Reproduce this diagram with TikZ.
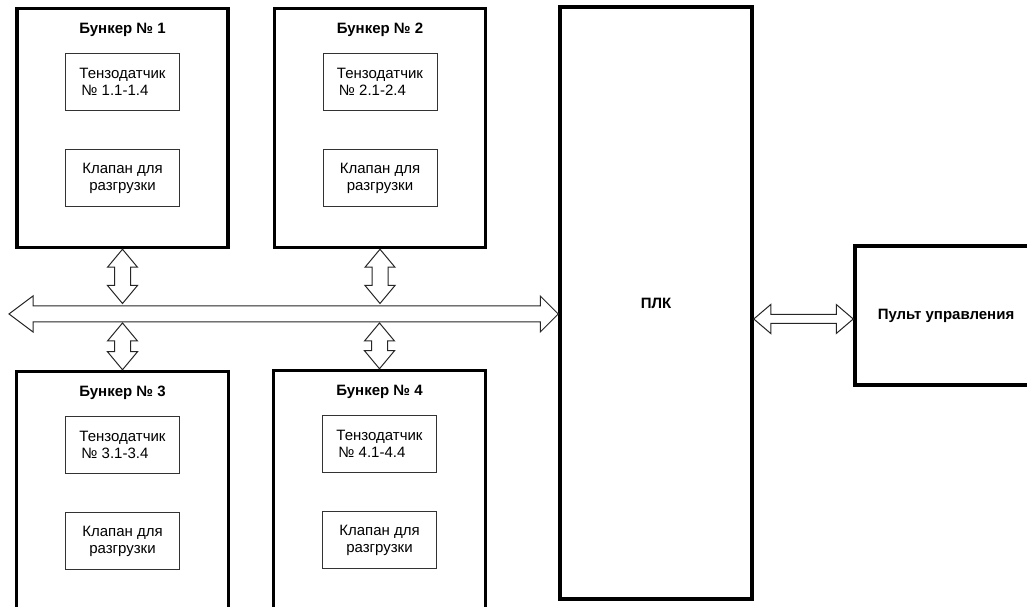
\documentclass[tikz,border=0pt]{standalone}
\usepackage{fontspec}
\setmainfont{Liberation Sans}
\usetikzlibrary{calc}
\tikzset{
  txt/.style={font=\fontsize{15pt}{17pt}\selectfont},
  bunker/.style={draw=black, line width=3.5pt, minimum width=211pt, minimum height=239pt, inner sep=0pt},
  bunkerB/.style={draw=black, line width=3.5pt, minimum width=212pt, minimum height=241pt, inner sep=0pt},
  title/.style={txt, font=\fontsize{15pt}{17pt}\selectfont\bfseries, inner sep=0pt},
  inner/.style={txt, draw=black!80, line width=0.9pt, minimum width=114pt, minimum height=57pt, inner sep=0pt},
  bigbox/.style={draw=black, line width=3.5pt, inner sep=0pt, font=\fontsize{15pt}{17pt}\selectfont\bfseries},
  barrow/.style={draw=black!85, line width=1pt, fill=white, line join=miter},
}
% vertical double block arrow: #1 top point, #2 bottom point
\newcommand\vdarr[2]{%
  \draw[barrow] let \p1=#1, \p2=#2 in
  (\x1,\y1) -- (\x1+15pt,\y1-18pt) -- (\x1+8pt,\y1-18pt) -- (\x1+8pt,\y2+18pt)
  -- (\x1+15pt,\y2+18pt) -- (\x1,\y2) -- (\x1-15pt,\y2+18pt) -- (\x1-8pt,\y2+18pt)
  -- (\x1-8pt,\y1-18pt) -- (\x1-15pt,\y1-18pt) -- cycle;}
% horizontal double block arrow: #1 left, #2 right, #3 shaft half, #4 head half, #5 left head len, #6 right head len
\newcommand\hdarr[6]{%
  \draw[barrow] let \p1=#1, \p2=#2 in
  (\x1,\y1) -- (\x1+#5,\y1+#4) -- (\x1+#5,\y1+#3) -- (\x2-#6,\y1+#3)
  -- (\x2-#6,\y1+#4) -- (\x2,\y1) -- (\x2-#6,\y1-#4) -- (\x2-#6,\y1-#3)
  -- (\x1+#5,\y1-#3) -- (\x1+#5,\y1-#4) -- cycle;}
\begin{document}
\begin{tikzpicture}[x=1pt,y=1pt]
\useasboundingbox (0,0) rectangle (1027,607);
\clip (0,0) rectangle (1027,607);
\fill[white] (0,0) rectangle (1027,607);

% bunkers
\node[bunker] (b1) at (122.5,479) {};
\node[bunker] (b2) at (380,479) {};
\node[bunkerB] (b3) at (122.5,115) {};
\node[bunkerB] (b4) at (379.5,116) {};

\foreach \b/\n in {b1/1,b2/2,b3/3,b4/4}{
  \node[title] (\b t) at ($(\b.north)+(0,-23.5)$) {Бункер № \n};
  \node[inner, align=left] (\b s) at ($(\b.north)+(0,-75.5)$) {Тензодатчик\\\hspace*{2pt}№ \n.1-\n.4};
  \node[inner, align=center] (\b v) at ($(\b.north)+(0,-171.5)$) {Клапан для\\разгрузки};
}

% PLC and control panel
\node[bigbox, minimum width=192pt, minimum height=592pt] (plc) at (656,304) {ПЛК};
\node[bigbox, minimum width=182pt, minimum height=139pt] (pult) at (946,291.5) {Пульт управления};

% bus
\coordinate (busL) at (9,293);
\coordinate (busR) at (plc.west |- busL);
\coordinate (busTop) at (9,303.5);
\coordinate (busBot) at (9,284);
\hdarr{(busL)}{(busR)}{8pt}{18pt}{24pt}{18pt}

% vertical arrows
\vdarr{(b1.south)}{(b1.south |- busTop)}
\vdarr{(b2.south)}{(b2.south |- busTop)}
\vdarr{(b3.north |- busBot)}{(b3.north)}
\vdarr{(b4.north |- busBot)}{(b4.north)}

% PLC <-> panel
\coordinate (pp) at ($(pult.west)+(0,-3.5)$);
\hdarr{(plc.east |- pp)}{(pp)}{4.5pt}{14.5pt}{17pt}{17pt}
\end{tikzpicture}
\end{document}
